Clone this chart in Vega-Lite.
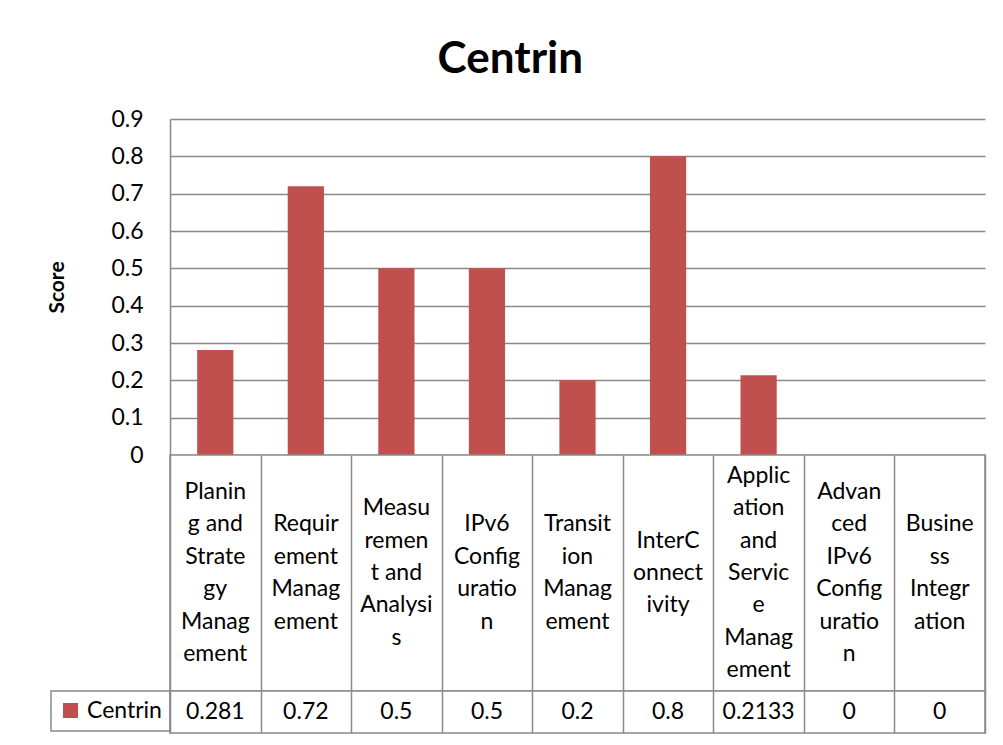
{
  "$schema": "https://vega.github.io/schema/vega-lite/v6.json",
  "padding": {"left": 46, "top": 38, "right": 5, "bottom": 5},
  "background": "white",
  "title": {"text": "Centrin", "font": "Lato", "fontSize": 44, "fontWeight": "bold", "color": "black", "anchor": "middle", "frame": "bounds", "offset": 26, "dx": -6},
  "datasets": {
    "d": [
      {"category": "Planing and Strategy Management", "label": "Planin\ng and\nStrate\ngy\nManag\nement", "score": 0.281, "series": "Centrin"},
      {"category": "Requirement Management", "label": "Requir\nement\nManag\nement", "score": 0.72, "series": "Centrin"},
      {"category": "Measurement and Analysis", "label": "Measu\nremen\nt and\nAnalysi\ns", "score": 0.5, "series": "Centrin"},
      {"category": "IPv6 Configuration", "label": "IPv6\nConfig\nuratio\nn", "score": 0.5, "series": "Centrin"},
      {"category": "Transition Management", "label": "Transit\nion\nManag\nement", "score": 0.2, "series": "Centrin"},
      {"category": "InterConnectivity", "label": "InterC\nonnect\nivity", "score": 0.8, "series": "Centrin"},
      {"category": "Application and Service Management", "label": "Applic\nation\nand\nServic\ne\nManag\nement", "score": 0.2133, "series": "Centrin"},
      {"category": "Advanced IPv6 Configuration", "label": "Advan\nced\nIPv6\nConfig\nuratio\nn", "score": 0, "series": "Centrin"},
      {"category": "Business Integration", "label": "Busine\nss\nIntegr\nation", "score": 0, "series": "Centrin"}
    ]
  },
  "data": {"name": "d"},
  "spacing": 0,
  "bounds": "flush",
  "resolve": {"scale": {"x": "independent"}, "legend": {"color": "independent"}},
  "vconcat": [
    {
      "width": 815,
      "height": 336,
      "view": {"stroke": null},
      "mark": {"type": "bar", "color": "#C0504D"},
      "encoding": {
        "x": {"field": "category", "type": "nominal", "sort": null, "scale": {"paddingInner": 0.6, "paddingOuter": 0.3}, "axis": null},
        "y": {
          "field": "score", "type": "quantitative",
          "scale": {"domain": [0, 0.9], "nice": false, "zero": true},
          "axis": {
            "values": [0, 0.1, 0.2, 0.3, 0.4, 0.5, 0.6, 0.7, 0.8, 0.9],
            "format": ".1~f",
            "labelFont": "Lato", "labelFontSize": 23, "labelColor": "black", "labelPadding": 27,
            "ticks": false,
            "domainColor": "#898989", "domainWidth": 1.5,
            "grid": true, "gridColor": "#898989", "gridWidth": 1.5,
            "title": "Score", "titleFont": "Lato", "titleFontSize": 21, "titleFontWeight": "bold", "titleColor": "black", "titlePadding": 43
          }
        }
      }
    },
    {
      "width": 815,
      "height": 236,
      "view": {"stroke": "#898989", "strokeWidth": 1.5, "fill": "white"},
      "mark": {"type": "text", "lineBreak": "\n", "lineHeight": 32.4, "font": "Lato", "fontSize": 23, "color": "black", "baseline": "middle", "align": "center",
        "dy": {"expr": "-(length(split(datum.label, '\\n')) - 1) * 16.2"}},
      "encoding": {
        "x": {"field": "category", "type": "nominal", "sort": null, "scale": {"padding": 0},
          "axis": {"orient": "top", "title": null, "labels": false, "ticks": false, "domain": false, "grid": true, "tickBand": "extent", "gridColor": "#898989", "gridWidth": 1.5}},
        "text": {"field": "label", "type": "nominal"}
      }
    },
    {
      "width": 815,
      "height": 42,
      "view": {"stroke": "#898989", "strokeWidth": 1.5, "fill": "white"},
      "layer": [
        {
          "mark": {"type": "text", "font": "Lato", "fontSize": 23, "color": "black", "baseline": "middle", "align": "center"},
          "encoding": {
            "x": {"field": "category", "type": "nominal", "sort": null, "scale": {"padding": 0},
              "axis": {"orient": "top", "title": null, "labels": false, "ticks": false, "domain": false, "grid": true, "tickBand": "extent", "gridColor": "#898989", "gridWidth": 1.5}},
            "text": {"field": "score", "type": "nominal"}
          }
        },
        {
          "mark": {"type": "text", "text": ""},
          "encoding": {
            "x": {"field": "category", "type": "nominal", "sort": null},
            "color": {"field": "series", "type": "nominal", "scale": {"range": ["#C0504D"]}, "legend": {"title": null, "orient": "left", "offset": 0}}
          }
        }
      ]
    }
  ],
  "config": {
    "legend": {
      "padding": 8,
      "strokeColor": "#898989",
      "strokeWidth": 1.5,
      "symbolType": "square",
      "symbolSize": 225,
      "symbolStrokeWidth": 0,
      "labelFont": "Lato",
      "labelFontSize": 23,
      "labelColor": "black",
      "labelOffset": 5
    }
  }
}
